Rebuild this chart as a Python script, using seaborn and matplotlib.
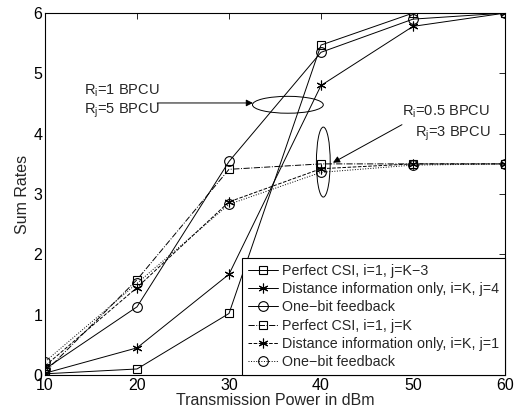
import numpy as np
import pandas as pd
import seaborn as sns
import matplotlib
matplotlib.use("Agg")
import matplotlib.pyplot as plt
from matplotlib.patches import Ellipse

power = [10, 20, 30, 40, 50, 60]
perfect_k3 = [0.02, 0.10, 1.02, 5.47, 6.00, 6.00]
dist_j4 = [0.03, 0.45, 1.67, 4.80, 5.78, 6.00]
onebit_hi = [0.10, 1.13, 3.54, 5.35, 5.90, 6.00]
perfect_k = [0.05, 1.58, 3.41, 3.50, 3.50, 3.50]
dist_j1 = [0.15, 1.45, 2.87, 3.42, 3.50, 3.50]
onebit_lo = [0.22, 1.52, 2.83, 3.36, 3.48, 3.50]

labels = ["Perfect CSI, i=1, j=K\u22123",
          "Distance information only, i=K, j=4",
          "One\u2212bit feedback",
          "Perfect CSI, i=1, j=K",
          "Distance information only, i=K, j=1",
          "One\u2212bit feedback"]

sns.set_style("white")
plt.rcParams['font.family'] = ['Liberation Sans', 'DejaVu Sans']
plt.rcParams['mathtext.fontset'] = 'custom'
plt.rcParams['mathtext.rm'] = 'Liberation Sans'

fig = plt.figure(figsize=(5.16, 4.09), dpi=100)
ax = fig.add_axes([0.0872, 0.0831, 0.8915, 0.8849])

asterisk = (6, 2, 0)
series = [
    (perfect_k3, 's', '-', 6),
    (dist_j4, asterisk, '-', 7),
    (onebit_hi, 'o', '-', 7),
    (perfect_k, 's', '-.', 6),
    (dist_j1, asterisk, '--', 7),
    (onebit_lo, 'o', ':', 7),
]
for (vals, mk, ls, ms), lab in zip(series, labels):
    df = pd.DataFrame({"p": power, "r": vals})
    sns.lineplot(data=df, x="p", y="r", ax=ax, color='k', marker=mk,
                 linestyle=ls, linewidth=0.7, markersize=ms,
                 markerfacecolor='none', markeredgecolor='k',
                 markeredgewidth=0.8, label=lab)

ax.set_xlim(10, 60)
ax.set_ylim(0, 6)
ax.set_xticks([10, 20, 30, 40, 50, 60])
ax.set_yticks([0, 1, 2, 3, 4, 5, 6])
ax.tick_params(direction='in', top=True, right=True, length=4, width=0.6,
               labelsize=11.5, pad=2, colors='k')
for s in ax.spines.values():
    s.set_color('k')
    s.set_linewidth(0.8)
ax.set_xlabel("Transmission Power in dBm", fontsize=11.5, labelpad=0)
ax.set_ylabel("Sum Rates", fontsize=11.5, labelpad=2)

leg = ax.legend(loc='lower right', fontsize=10.3, frameon=True, fancybox=False,
                edgecolor='k', framealpha=1, borderaxespad=0, numpoints=1,
                handlelength=2.1, handletextpad=0.3, labelspacing=0.3,
                borderpad=0.4)
leg.get_frame().set_linewidth(0.8)

# annotations
ax.add_patch(Ellipse((36.4, 4.48), 7.7, 0.28, fill=False, ec='k', lw=0.7))
ax.add_patch(Ellipse((40.25, 3.53), 1.5, 1.16, fill=False, ec='k', lw=0.7))
ax.text(14.2, 4.71, r"R$_\mathrm{i}$=1 BPCU", fontsize=10.5, va='center')
ax.text(14.2, 4.39, r"R$_\mathrm{j}$=5 BPCU", fontsize=10.5, va='center')
ax.annotate("", xy=(32.6, 4.51), xytext=(22.2, 4.51),
            arrowprops=dict(arrowstyle='-|>', color='k', lw=0.7,
                            mutation_scale=10, shrinkA=0, shrinkB=0))
ax.text(48.8, 4.36, r"R$_\mathrm{i}$=0.5 BPCU", fontsize=10.5, va='center')
ax.text(50.2, 4.0, r"R$_\mathrm{j}$=3 BPCU", fontsize=10.5, va='center')
ax.annotate("", xy=(41.3, 3.52), xytext=(48.8, 4.15),
            arrowprops=dict(arrowstyle='-|>', color='k', lw=0.7,
                            mutation_scale=10, shrinkA=0, shrinkB=0))

fig.savefig("out.png", dpi=100)
